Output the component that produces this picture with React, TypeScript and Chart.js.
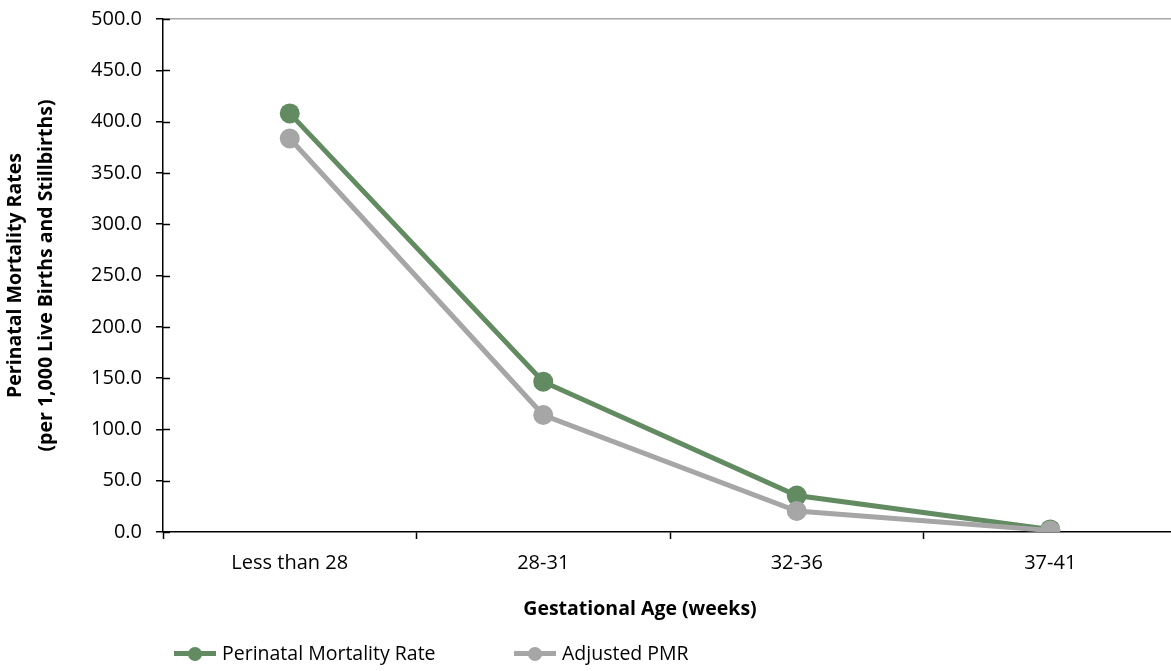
import React, { useEffect, useRef } from "react";
import { Chart, registerables } from "chart.js";

Chart.register(...registerables);

const categories = ["Less than 28", "28-31", "32-36", "37-41"];
const pmrValues = [408.0, 146.5, 35.5, 2.5];
const adjustedValues = [383.5, 114.0, 20.5, 1.5];
const yTickValues = [0, 50, 100, 150, 200, 250, 300, 350, 400, 450, 500];
const seriesNames = ["Perinatal Mortality Rate", "Adjusted PMR"];
const xTitle = "Gestational Age (weeks)";
const yTitle = ["Perinatal Mortality Rates", "(per 1,000 Live Births and Stillbirths)"];

const GREEN = "#628B61";
const GRAY = "#A6A6A6";
const FONT = "'Open Sans', 'DejaVu Sans', sans-serif";

const crossTicks = {
  id: "crossTicks",
  beforeDatasetsDraw(chart: any) {
    const y = chart.scales.y;
    const ctx = chart.ctx;
    ctx.save();
    ctx.strokeStyle = "#000";
    ctx.lineWidth = 1.5;
    y.ticks.forEach((t: any) => {
      const py = Math.round(y.getPixelForValue(t.value)) + 0.5;
      ctx.beginPath();
      ctx.moveTo(y.right, py);
      ctx.lineTo(y.right + 7, py);
      ctx.stroke();
    });
    ctx.restore();
  },
};

function LegendItem({ color, label, left }: { color: string; label: string; left: number }) {
  return (
    <div style={{ position: "absolute", left, top: 640, height: 26, display: "flex", alignItems: "center" }}>
      <div style={{ position: "relative", width: 42, height: 26 }}>
        <div style={{ position: "absolute", left: 0, top: 11, width: 42, height: 5, background: color }} />
        <div style={{ position: "absolute", left: 14, top: 6.5, width: 14, height: 14, borderRadius: "50%", background: color }} />
      </div>
      <span style={{ marginLeft: 6, fontFamily: FONT, fontSize: 19.5, color: "#000", whiteSpace: "nowrap", lineHeight: "26px" }}>{label}</span>
    </div>
  );
}

export default function App() {
  const ref = useRef<HTMLCanvasElement | null>(null);

  useEffect(() => {
    if (!ref.current) return;
    const chart = new Chart(ref.current, {
      type: "line",
      data: {
        labels: categories,
        datasets: [
          {
            label: seriesNames[0],
            data: pmrValues,
            borderColor: GREEN,
            backgroundColor: GREEN,
            pointBackgroundColor: GREEN,
            pointBorderColor: GREEN,
            borderWidth: 5,
            pointRadius: 10,
            pointBorderWidth: 0,
            tension: 0,
            order: 1,
          },
          {
            label: seriesNames[1],
            data: adjustedValues,
            borderColor: GRAY,
            backgroundColor: GRAY,
            pointBackgroundColor: GRAY,
            pointBorderColor: GRAY,
            borderWidth: 5,
            pointRadius: 10,
            pointBorderWidth: 0,
            tension: 0,
            order: 0,
          },
        ],
      },
      options: {
        responsive: false,
        animation: false,
        devicePixelRatio: 1,
        layout: { padding: { top: 19, right: 4, left: 0, bottom: 0 } },
        plugins: { legend: { display: false }, tooltip: { enabled: false } },
        scales: {
          x: {
            type: "category",
            offset: true,
            grid: {
              offset: true,
              drawOnChartArea: false,
              drawTicks: true,
              tickLength: 7,
              tickColor: "#000",
              tickWidth: 1.5,
            },
            border: { color: "#000", width: 1.5 },
            ticks: { color: "#000", font: { family: FONT, size: 20 }, padding: 12, maxRotation: 0 },
            afterFit: (s: any) => {
              s.height = 139;
            },
          },
          y: {
            min: 0,
            max: 500,
            afterBuildTicks: (s: any) => {
              s.ticks = yTickValues.map((v) => ({ value: v }));
            },
            grid: {
              color: (c: any) => (c.tick && c.tick.value === 500 ? GRAY : "rgba(0,0,0,0)"),
              lineWidth: 1.5,
              tickLength: 7,
              tickColor: "#000",
              tickWidth: 1.5,
            },
            border: { color: "#000", width: 1.5 },
            ticks: {
              color: "#000",
              font: { family: FONT, size: 20 },
              padding: 14,
              callback: (v: any) => Number(v).toFixed(1),
            },
            title: {
              display: true,
              text: yTitle,
              color: "#000",
              font: { family: FONT, size: 19.5, weight: "bold", lineHeight: 1.6 },
              padding: { top: 0, bottom: 0 },
            },
            afterFit: (s: any) => {
              s.width = 163;
              s.paddingTop = 0;
              s.paddingBottom = 0;
            },
          },
        },
      },
      plugins: [crossTicks],
    } as any);
    return () => chart.destroy();
  }, []);

  return (
    <div style={{ position: "fixed", left: 0, top: 0, width: 1171, height: 671, overflow: "hidden", background: "#fff" }}>
      <canvas ref={ref} width={1187} height={671} style={{ display: "block", width: 1187, height: 671 }} />
      <div
        style={{
          position: "absolute",
          left: 640,
          top: 594,
          transform: "translateX(-50%)",
          fontFamily: FONT,
          fontWeight: "bold",
          fontSize: 19.5,
          lineHeight: "28px",
          whiteSpace: "nowrap",
          color: "#000",
        }}
      >
        {xTitle}
      </div>
      <LegendItem color={GREEN} label={seriesNames[0]} left={174} />
      <LegendItem color={GRAY} label={seriesNames[1]} left={514} />
    </div>
  );
}
